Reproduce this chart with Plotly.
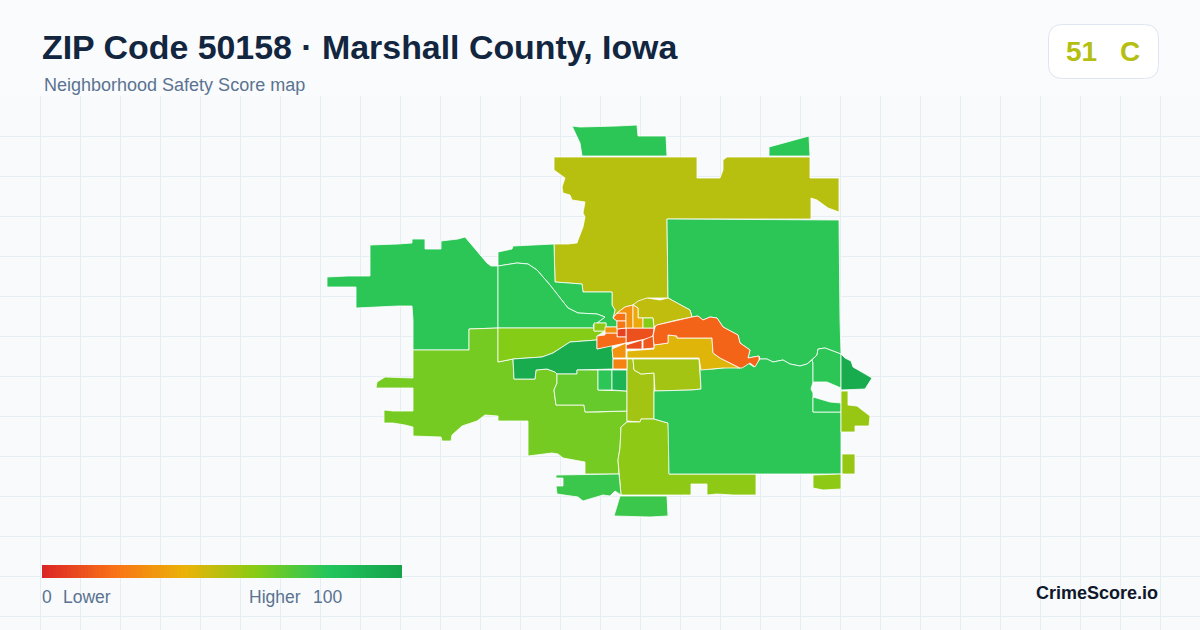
import numpy as np
import plotly.graph_objects as go
from plotly.colors import sample_colorscale

W, H, HEADER = 1200, 630, 97

score_stops = [0, 0.2, 0.4, 0.6, 0.8, 1]
score_colors = ["#dc2626", "#f97316", "#eab308", "#84cc16", "#22c55e", "#16a34a"]
legend_scores = list(range(0, 101))

north_green = [(572,126),(580,127),(617,126),(637,125),(638,136),(666,136),(667,156),(582,156),(580,143),(577,137)]
northeast_green = [(769,147),(783,143),(800,138),(809,136),(810,156),(769,156)]
north_olive = [(554,157),(697,157),(697,178),(720,178),(723,170),(723,160),(727,157),(810,157),(810,178),(839,178),(839,212),(828,208),(817,200),(811,198),(811,219),(667,219),(668,298),(648,298),(638,302),(633,305),(625,307),(617,313),(613,318),(615,310),(612,305),(612,292),(583,292),(582,284),(555,282),(554,244),(568,244),(577,243),(578,240),(583,227),(585,217),(583,213),(585,202),(572,200),(570,195),(563,193),(562,187),(565,178),(554,170)]
east_green = [(667,219),(839,220),(840,320),(841,354),(825,348),(818,349),(817,355),(812,360),(807,364),(800,366),(790,364),(783,360),(773,362),(767,359),(760,359),(759,356),(752,357),(748,358),(750,350),(740,343),(738,335),(723,327),(717,318),(710,317),(703,320),(698,316),(692,317),(690,310),(677,303),(668,298)]
northwest_green = [(327,277),(348,276),(370,276),(370,245),(398,244),(412,243),(412,239),(425,239),(425,249),(441,249),(441,241),(458,239),(465,237),(470,243),(478,253),(487,263),(491,266),(498,266),(498,328),(469,329),(469,350),(413,350),(413,320),(412,306),(398,306),(370,307),(356,308),(356,287),(327,287)]
west_upper_green = [(498,266),(498,252),(512,249),(513,246),(554,244),(555,282),(582,284),(583,292),(612,292),(612,305),(615,310),(613,318),(617,321),(617,327),(606,327),(606,323),(597,323),(605,317),(597,314),(578,313),(568,308),(550,285),(537,270),(528,264),(517,263)]
west_lower_green = [(498,266),(517,263),(528,264),(537,270),(550,285),(568,308),(578,313),(597,314),(605,317),(597,323),(593,325),(594,328),(498,328)]
west_lime = [(413,350),(469,350),(469,329),(498,328),(498,362),(513,359),(514,379),(535,379),(536,370),(547,369),(555,372),(557,374),(557,383),(554,390),(556,405),(584,405),(585,412),(598,412),(627,411),(627,422),(621,427),(620,448),(618,460),(619,474),(585,474),(585,462),(563,458),(558,454),(552,453),(538,455),(528,456),(528,421),(498,421),(498,416),(485,415),(477,421),(462,426),(452,435),(451,441),(442,441),(441,437),(413,436),(413,427),(405,425),(393,423),(384,423),(384,410),(393,411),(413,411),(413,388),(376,388),(377,382),(385,377),(413,378),(413,363)]
central_lime = [(498,328),(594,328),(594,331),(605,331),(597,336),(597,340),(570,342),(562,347),(553,353),(542,357),(513,359),(498,362)]
small_lime_box = [(594,323),(606,323),(606,331),(594,331)]
river_dark_green = [(513,359),(542,357),(553,353),(562,347),(570,342),(597,340),(597,349),(612,345),(613,358),(613,369),(577,370),(577,374),(557,374),(555,372),(547,369),(536,370),(535,379),(514,379)]
tract_green_a = [(598,370),(612,370),(612,390),(598,390)]
tract_green_b = [(612,370),(627,370),(627,391),(612,390)]
middle_green = [(557,374),(577,374),(577,370),(598,370),(598,390),(627,391),(627,411),(598,412),(585,412),(584,405),(556,405),(554,390),(557,383)]
south_column = [(627,359),(633,359),(634,370),(641,374),(654,373),(654,419),(641,419),(640,422),(627,421)]
southeast_block = [(633,359),(699,359),(700,373),(701,389),(692,390),(655,391),(654,373),(641,374),(634,370)]
south_lime = [(621,427),(627,422),(640,422),(641,419),(654,419),(668,423),(669,437),(669,474),(756,474),(756,495),(733,495),(717,494),(707,495),(707,484),(691,484),(691,495),(621,495),(619,473),(618,460),(620,448)]
big_southeast_green = [(654,391),(692,390),(701,389),(700,369),(713,369),(731,367),(740,368),(743,364),(748,363),(754,367),(760,359),(767,359),(773,362),(783,360),(790,364),(800,366),(807,364),(812,360),(813,363),(813,382),(811,389),(813,393),(813,412),(841,412),(841,474),(669,474),(668,423),(654,419)]
east_strip_top = [(813,363),(812,360),(817,355),(818,349),(825,348),(841,354),(841,388),(827,382),(813,382)]
east_strip_bottom = [(813,397),(830,402),(841,403),(841,412),(813,412)]
east_dark_green = [(841,354),(845,358),(851,361),(853,367),(860,371),(872,378),(865,389),(841,390)]
east_lime = [(841,391),(848,391),(848,405),(857,406),(870,416),(869,426),(855,426),(855,432),(841,432)]
east_lime_box = [(842,454),(855,454),(855,474),(842,474)]
southeast_tab = [(813,475),(841,474),(841,489),(823,490),(813,488)]
south_green = [(620,496),(667,496),(668,516),(650,517),(614,516),(618,503)]
southwest_green = [(556,475),(619,474),(621,495),(615,491),(610,496),(603,495),(583,501),(578,497),(557,494),(556,486),(563,486),(563,478),(556,478)]
north_mid_olive = [(633,305),(638,301),(647,298),(660,300),(668,298),(677,303),(690,310),(692,317),(677,320),(657,325),(654,327),(653,318),(638,318),(638,308)]
gold_block = [(627,351),(654,349),(654,345),(668,343),(668,335),(677,336),(677,338),(712,338),(713,353),(720,358),(740,368),(723,368),(701,370),(699,358),(633,358),(627,358)]
orange_corridor = [(653,336),(655,327),(657,325),(677,320),(692,317),(698,316),(703,320),(710,317),(717,318),(723,327),(738,335),(740,343),(750,350),(748,358),(752,357),(759,356),(759,360),(755,367),(750,363),(742,368),(740,368),(720,358),(713,353),(712,338),(677,338),(677,336),(668,335),(668,343),(654,345)]
downtown_red = [(626,328),(654,328),(653,335),(651,338),(626,343)]
downtown_small_red = [(617,329),(626,328),(626,337),(617,337)]
downtown_south_red = [(626,345),(642,340),(642,349),(626,349)]
downtown_south_orange = [(643,340),(653,336),(654,348),(643,349)]
west_orange = [(605,333),(617,333),(617,337),(626,337),(626,343),(597,349),(597,336),(605,335)]
amber_box_west = [(605,327),(617,327),(617,333),(605,333)]
amber_column = [(612,349),(626,343),(626,358),(613,358)]
orange_box_south = [(613,359),(627,359),(627,369),(613,369)]
orange_north_a = [(613,318),(617,313),(626,313),(626,321),(617,321)]
orange_north_b = [(617,321),(626,321),(626,328),(617,329)]
amber_north = [(617,313),(625,307),(633,305),(633,328),(626,328),(626,313)]
yellow_north = [(633,305),(638,308),(638,318),(643,318),(643,328),(633,328)]
lime_box_north = [(643,318),(653,318),(654,328),(643,328)]

regions = [north_green, northeast_green, north_olive, east_green, northwest_green, west_upper_green, west_lower_green,
           west_lime, central_lime, small_lime_box, river_dark_green, middle_green, tract_green_a, tract_green_b,
           south_column, southeast_block, south_lime, big_southeast_green, east_strip_top, east_strip_bottom,
           east_dark_green, east_lime, east_lime_box, southeast_tab, south_green, southwest_green, north_mid_olive,
           gold_block, orange_corridor, downtown_red, downtown_small_red, downtown_south_red, downtown_south_orange,
           west_orange, amber_box_west, amber_column, orange_box_south, orange_north_a, orange_north_b, amber_north,
           yellow_north, lime_box_north]
region_scores = [78, 78, 50, 78, 78, 78, 78,
                 63, 60, 58, 95, 66, 78, 90,
                 54, 54, 58, 78, 78, 78,
                 95, 56, 56, 58, 75, 75, 48,
                 42, 16, 11, 7, 10, 13,
                 18, 29, 30, 25, 20, 21, 30,
                 37, 60]

colorscale = [[s, c] for s, c in zip(score_stops, score_colors)]
fig = go.Figure()

for pts, score in zip(regions, region_scores):
    xs = [p[0] for p in pts] + [pts[0][0]]
    ys = [p[1] for p in pts] + [pts[0][1]]
    fig.add_trace(go.Scatter(x=xs, y=ys, mode="lines", fill="toself",
                             fillcolor=sample_colorscale(colorscale, score / 100)[0],
                             line=dict(color="#ffffff", width=0.8),
                             hoverinfo="skip", showlegend=False))

bar_dx = 360 / len(legend_scores)
fig.add_trace(go.Heatmap(z=[legend_scores, legend_scores], x0=42 + bar_dx / 2, dx=bar_dx, y0=568.25, dy=6.5,
                         zmin=0, zmax=100, colorscale=colorscale, showscale=False, hoverinfo="skip"))


def px(x):
    return x / W


def py(y):
    return 1 - y / H


def label(x, y, text, size, color, bold=False, anchor="left"):
    fig.add_annotation(xref="paper", yref="paper", x=px(x), y=py(y), text=f"<b>{text}</b>" if bold else text,
                       showarrow=False, xanchor=anchor, yanchor="middle", borderpad=0,
                       font=dict(family="Liberation Sans, Arial, sans-serif", size=size, color=color))


label(41, 47, "ZIP Code 50158 · Marshall County, Iowa", 33.9, "#12263f", True)
label(43, 85, "Neighborhood Safety Score map", 18, "#5a7391")
label(1065, 51, "51", 28, "#b5bf12", True)
label(1119, 51, "C", 28, "#b5bf12", True)
label(41, 597, "0", 17.5, "#5a7391")
label(62, 597, "Lower", 17.5, "#5a7391")
label(248, 597, "Higher", 17.5, "#5a7391")
label(312, 597, "100", 17.5, "#5a7391")
label(1159, 593, "CrimeScore.io", 18, "#0f172a", True, "right")

x0, x1, y0, y1, r = 1048.5, 1158.5, 24.5, 78.5, 14
badge_path = (f"M {px(x0+r)} {py(y0)} L {px(x1-r)} {py(y0)} Q {px(x1)} {py(y0)} {px(x1)} {py(y0+r)} "
              f"L {px(x1)} {py(y1-r)} Q {px(x1)} {py(y1)} {px(x1-r)} {py(y1)} L {px(x0+r)} {py(y1)} "
              f"Q {px(x0)} {py(y1)} {px(x0)} {py(y1-r)} L {px(x0)} {py(y0+r)} Q {px(x0)} {py(y0)} {px(x0+r)} {py(y0)} Z")
fig.add_shape(type="path", xref="paper", yref="paper", path=badge_path,
              fillcolor="#ffffff", line=dict(color="#dfe5ee", width=1), layer="below")

fig.update_layout(
    width=W, height=H, autosize=False,
    margin=dict(l=0, r=0, t=0, b=0),
    paper_bgcolor="#fafbfd", plot_bgcolor="#f8fafc",
    xaxis=dict(range=[0, W], domain=[0, 1], tick0=0.5, dtick=40, showgrid=True, gridcolor="#e6edf3", gridwidth=1,
               zeroline=False, showticklabels=False, ticks="", showline=False, fixedrange=True),
    yaxis=dict(range=[H, HEADER - 1], domain=[0, 1 - (HEADER - 1) / H], tick0=96.5, dtick=40, showgrid=True,
               gridcolor="#e6edf3", gridwidth=1, zeroline=False, showticklabels=False, ticks="", showline=False,
               fixedrange=True),
)

fig.write_html("out.html", config=dict(displayModeBar=False),
               post_script="document.body.style.margin='0';document.body.style.overflow='hidden';")
